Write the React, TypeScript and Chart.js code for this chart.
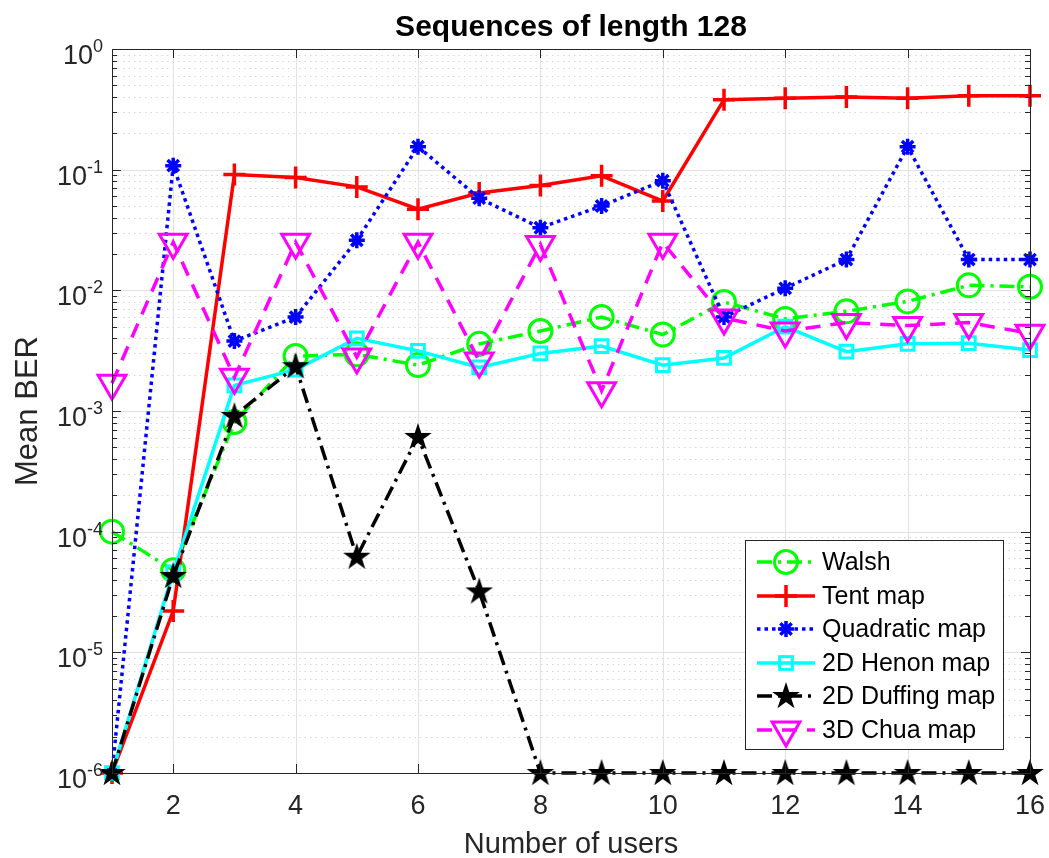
import React, { useEffect, useRef } from "react";
import { Chart, registerables } from "chart.js";

Chart.register(...registerables);

const users = [1, 2, 3, 4, 5, 6, 7, 8, 9, 10, 11, 12, 13, 14, 15, 16];
const walsh = [1.0e-4, 4.8e-5, 8.1e-4, 2.85e-3, 2.95e-3, 2.4e-3, 3.6e-3, 4.6e-3, 6.0e-3, 4.3e-3, 8.0e-3, 5.8e-3, 6.7e-3, 8.1e-3, 1.1e-2, 1.07e-2];
const tentMap = [1e-6, 2.2e-5, 0.091, 0.086, 0.072, 0.047, 0.064, 0.074, 0.089, 0.055, 0.38, 0.39, 0.40, 0.39, 0.41, 0.41];
const quadraticMap = [1e-6, 0.108, 3.8e-3, 6.0e-3, 0.026, 0.155, 0.058, 0.033, 0.050, 0.081, 6.0e-3, 0.0104, 0.018, 0.155, 0.018, 0.018];
const henonMap = [1e-6, 4.6e-5, 1.63e-3, 2.2e-3, 4.0e-3, 3.15e-3, 2.3e-3, 3.0e-3, 3.45e-3, 2.4e-3, 2.75e-3, 5.0e-3, 3.1e-3, 3.6e-3, 3.65e-3, 3.2e-3];
const duffingMap = [1e-6, 4.3e-5, 9.1e-4, 2.35e-3, 6.2e-5, 6.1e-4, 3.2e-5, 1e-6, 1e-6, 1e-6, 1e-6, 1e-6, 1e-6, 1e-6, 1e-6, 1e-6];
const chuaMap = [1.7e-3, 0.025, 1.9e-3, 0.025, 2.8e-3, 0.025, 2.6e-3, 0.024, 1.47e-3, 0.025, 5.9e-3, 4.6e-3, 5.4e-3, 5.1e-3, 5.4e-3, 4.4e-3];

const xTicks = [2, 4, 6, 8, 10, 12, 14, 16];
const yExponents = [-6, -5, -4, -3, -2, -1, 0];
const seriesNames = ["Walsh", "Tent map", "Quadratic map", "2D Henon map", "2D Duffing map", "3D Chua map"];

const titleText = "Sequences of length 128";
const xTitle = "Number of users";
const yTitle = "Mean BER";
const FONT = "'Liberation Sans', Arial, Helvetica, sans-serif";

function makePentagram(): HTMLCanvasElement {
  const c = document.createElement("canvas");
  c.width = 32;
  c.height = 32;
  const ctx = c.getContext("2d")!;
  const cx = 16, cy = 16.5, R = 14.5, r = R * 0.382;
  ctx.beginPath();
  for (let i = 0; i < 10; i++) {
    const rad = i % 2 === 0 ? R : r;
    const a = -Math.PI / 2 + (i * Math.PI) / 5;
    const px = cx + rad * Math.cos(a);
    const py = cy + rad * Math.sin(a);
    if (i === 0) ctx.moveTo(px, py);
    else ctx.lineTo(px, py);
  }
  ctx.closePath();
  ctx.fillStyle = "#000";
  ctx.fill();
  return c;
}

export default function App() {
  const ref = useRef<HTMLCanvasElement | null>(null);

  useEffect(() => {
    if (!ref.current) return;
    const star = makePentagram();

    const styles = [
      { color: "#00ff00", dash: [15, 6, 3, 6], width: 3.5, pointStyle: "circle", radius: 11.5, pbw: 3, rot: 0 },
      { color: "#ff0000", dash: [], width: 3.5, pointStyle: "cross", radius: 11, pbw: 3.5, rot: 0 },
      { color: "#0000ff", dash: [3.5, 4], width: 3.5, pointStyle: "star", radius: 8, pbw: 3.5, rot: 0 },
      { color: "#00ffff", dash: [], width: 3.5, pointStyle: "rect", radius: 9, pbw: 3, rot: 0 },
      { color: "#000000", dash: [15, 6, 3, 6], width: 3.5, pointStyle: star as any, radius: 14, pbw: 1, rot: 0 },
      { color: "#ff00ff", dash: [15, 10], width: 3.5, pointStyle: "triangle", radius: 16, pbw: 3, rot: 180 },
    ];
    const seriesData = [walsh, tentMap, quadraticMap, henonMap, duffingMap, chuaMap];

    const datasets = seriesData.map((vals, i) => ({
      label: seriesNames[i],
      data: users.map((u, k) => ({ x: u, y: vals[k] })),
      borderColor: styles[i].color,
      backgroundColor: "rgba(0,0,0,0)",
      borderWidth: styles[i].width,
      borderDash: styles[i].dash,
      pointStyle: styles[i].pointStyle,
      pointRadius: styles[i].radius,
      pointBorderWidth: styles[i].pbw,
      pointBorderColor: styles[i].color,
      pointBackgroundColor: "rgba(0,0,0,0)",
      pointRotation: styles[i].rot,
      tension: 0,
      clip: false as any,
      order: 6 - i,
    }));

    const drawMarker = (ctx: CanvasRenderingContext2D, s: any, x: number, y: number) => {
      ctx.save();
      ctx.setLineDash([]);
      ctx.strokeStyle = s.color;
      ctx.lineWidth = s.pbw;
      const r = s.radius;
      if (s.pointStyle === "circle") {
        ctx.beginPath();
        ctx.arc(x, y, r, 0, Math.PI * 2);
        ctx.stroke();
      } else if (s.pointStyle === "cross") {
        ctx.beginPath();
        ctx.moveTo(x - r, y); ctx.lineTo(x + r, y);
        ctx.moveTo(x, y - r); ctx.lineTo(x, y + r);
        ctx.stroke();
      } else if (s.pointStyle === "star") {
        ctx.beginPath();
        for (let k = 0; k < 4; k++) {
          const a = (k * Math.PI) / 4;
          ctx.moveTo(x - r * Math.cos(a), y - r * Math.sin(a));
          ctx.lineTo(x + r * Math.cos(a), y + r * Math.sin(a));
        }
        ctx.stroke();
      } else if (s.pointStyle === "rect") {
        const h = r * Math.SQRT1_2;
        ctx.strokeRect(x - h, y - h, 2 * h, 2 * h);
      } else if (s.pointStyle === "triangle") {
        ctx.beginPath();
        for (let k = 0; k < 3; k++) {
          const a = Math.PI + (k * 2 * Math.PI) / 3;
          const px = x + Math.sin(a) * r;
          const py = y - Math.cos(a) * r;
          if (k === 0) ctx.moveTo(px, py);
          else ctx.lineTo(px, py);
        }
        ctx.closePath();
        ctx.stroke();
      } else {
        ctx.drawImage(s.pointStyle, x - s.pointStyle.width / 2, y - s.pointStyle.height / 2);
      }
      ctx.restore();
    };

    const decorations = {
      id: "matlabDecor",
      beforeDatasetsDraw(chart: any) {
        const { ctx, chartArea: a, scales } = chart;
        const ys = scales.y;
        const xs = scales.x;
        ctx.save();
        // minor dotted grid
        ctx.strokeStyle = "#d6d6d6";
        ctx.lineWidth = 1;
        ctx.setLineDash([1.5, 4]);
        for (let e = -6; e < 0; e++) {
          for (let m = 2; m <= 9; m++) {
            const y = Math.round(ys.getPixelForValue(m * Math.pow(10, e))) + 0.5;
            ctx.beginPath();
            ctx.moveTo(a.left, y);
            ctx.lineTo(a.right, y);
            ctx.stroke();
          }
        }
        // major solid grid
        ctx.setLineDash([]);
        ctx.strokeStyle = "#e2e2e2";
        for (const e of yExponents) {
          const y = Math.round(ys.getPixelForValue(Math.pow(10, e))) + 0.5;
          ctx.beginPath();
          ctx.moveTo(a.left, y);
          ctx.lineTo(a.right, y);
          ctx.stroke();
        }
        for (const t of xTicks) {
          const x = Math.round(xs.getPixelForValue(t)) + 0.5;
          ctx.beginPath();
          ctx.moveTo(x, a.top);
          ctx.lineTo(x, a.bottom);
          ctx.stroke();
        }
        ctx.restore();
      },
      afterDatasetsDraw(chart: any) {
        const { ctx, chartArea: a, scales } = chart;
        const ys = scales.y;
        const xs = scales.x;
        ctx.save();
        ctx.setLineDash([]);
        ctx.strokeStyle = "#262626";
        ctx.lineWidth = 1;
        // ticks
        ctx.beginPath();
        for (let e = -6; e <= 0; e++) {
          for (let m = 1; m <= 9; m++) {
            const v = m * Math.pow(10, e);
            if (v > 1) break;
            const y = Math.round(ys.getPixelForValue(v)) + 0.5;
            const len = m === 1 ? 9 : 5;
            ctx.moveTo(a.left, y); ctx.lineTo(a.left + len, y);
            ctx.moveTo(a.right, y); ctx.lineTo(a.right - len, y);
          }
        }
        for (const t of xTicks) {
          const x = Math.round(xs.getPixelForValue(t)) + 0.5;
          ctx.moveTo(x, a.bottom); ctx.lineTo(x, a.bottom - 9);
          ctx.moveTo(x, a.top); ctx.lineTo(x, a.top + 9);
        }
        ctx.stroke();
        // box
        ctx.strokeRect(Math.round(a.left) + 0.5, Math.round(a.top) + 0.5, Math.round(a.right - a.left), Math.round(a.bottom - a.top));

        // x tick labels
        ctx.fillStyle = "#262626";
        ctx.font = `27px ${FONT}`;
        ctx.textAlign = "center";
        ctx.textBaseline = "alphabetic";
        for (const t of xTicks) {
          ctx.fillText(String(t), xs.getPixelForValue(t), a.bottom + 41);
        }
        // y tick labels
        for (const e of yExponents) {
          const y = ys.getPixelForValue(Math.pow(10, e));
          const expStr = e === 0 ? "0" : "-" + Math.abs(e);
          ctx.textAlign = "right";
          ctx.font = `18px ${FONT}`;
          const w = ctx.measureText(expStr).width;
          const right = a.left - 9;
          ctx.fillText(expStr, right, y + 3);
          ctx.font = `27px ${FONT}`;
          ctx.fillText("10", right - w, y + 15);
        }
        // axis titles
        ctx.textAlign = "center";
        ctx.font = `29px ${FONT}`;
        ctx.fillText(xTitle, (a.left + a.right) / 2, 853);
        ctx.save();
        ctx.translate(37, (a.top + a.bottom) / 2);
        ctx.rotate(-Math.PI / 2);
        ctx.font = `31px ${FONT}`;
        ctx.fillText(yTitle, 0, 0);
        ctx.restore();
        // title
        ctx.fillStyle = "#000";
        ctx.font = `bold 30px ${FONT}`;
        ctx.fillText(titleText, (a.left + a.right) / 2, 36);

        // legend
        const lx = 745, ly = 540, lw = 258, lh = 209;
        ctx.fillStyle = "#fff";
        ctx.fillRect(lx, ly, lw, lh);
        ctx.strokeStyle = "#262626";
        ctx.lineWidth = 1;
        ctx.strokeRect(lx + 0.5, ly + 0.5, lw, lh);
        const rowY = [562, 596, 629, 663, 696, 730];
        styles.forEach((s, i) => {
          const y = rowY[i];
          ctx.save();
          ctx.strokeStyle = s.color;
          ctx.lineWidth = s.width;
          ctx.setLineDash(s.dash);
          ctx.beginPath();
          ctx.moveTo(757, y);
          ctx.lineTo(815, y);
          ctx.stroke();
          ctx.restore();
          drawMarker(ctx, s, 786, y);
          ctx.fillStyle = "#000";
          ctx.font = `25px ${FONT}`;
          ctx.textAlign = "left";
          ctx.textBaseline = "middle";
          ctx.fillText(seriesNames[i], 822, y + 1);
        });
        ctx.restore();
      },
    };

    const chart = new Chart(ref.current, {
      type: "line",
      data: { datasets: datasets as any },
      options: {
        responsive: false,
        animation: false,
        layout: { padding: { left: 112, right: 18, top: 49, bottom: 85 } },
        scales: {
          x: { type: "linear", min: 1, max: 16, display: false },
          y: { type: "logarithmic", min: 1e-6, max: 1, display: false },
        },
        plugins: {
          legend: { display: false },
          title: { display: false },
          tooltip: { enabled: false },
        },
      },
      plugins: [decorations as any],
    });
    return () => chart.destroy();
  }, []);

  return (
    <div style={{ position: "absolute", left: 0, top: 0, width: 1049, height: 858, background: "#fff" }}>
      <canvas ref={ref} width={1049} height={858} style={{ display: "block", width: 1049, height: 858 }} />
    </div>
  );
}
